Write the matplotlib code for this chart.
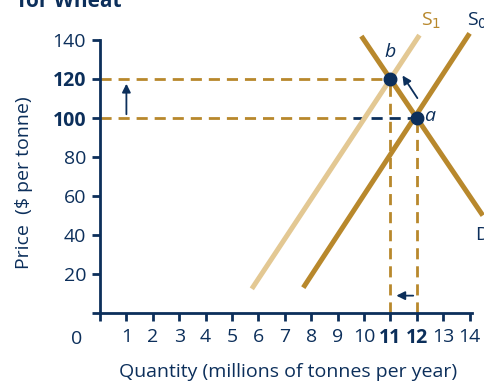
import matplotlib
matplotlib.use("Agg")
import matplotlib.pyplot as plt

plt.rcParams['font.family'] = ['Open Sans', 'DejaVu Sans']

NAVY = "#0c2f5b"
GOLD = "#b8882c"
LIGHT = "#e3c893"

# Curves (quantity, price) end points
d_q = [9.9, 14.5]
d_p = [142, 50]
s0_q = [7.7, 14.0]
s0_p = [13, 143.4]
s1_q = [5.75, 12.1]
s1_p = [12.4, 142.5]

# Equilibria
pt_a = (12, 100)
pt_b = (11, 120)

x_ticks = list(range(0, 15))
x_labels = [""] + [str(i) for i in range(1, 15)]
y_ticks = [0, 20, 40, 60, 80, 100, 120, 140]
y_labels = ["", "20", "40", "60", "80", "100", "120", "140"]
bold_x = {"11", "12"}
bold_y = {"100", "120"}

FS = 14

W, H = 484, 383
fig = plt.figure(figsize=(W / 100, H / 100), dpi=100)
px_x0, px_y0 = 100, 313
sx, sy = 26.4, 1.95
xmax, ymax = 14.5, 150
ax = fig.add_axes([px_x0 / W, (H - px_y0) / H, xmax * sx / W, ymax * sy / H])
ax.set_xlim(0, xmax)
ax.set_ylim(0, ymax)

for s in ["top", "right"]:
    ax.spines[s].set_visible(False)
for s in ["left", "bottom"]:
    ax.spines[s].set_color(NAVY)
    ax.spines[s].set_linewidth(2)
ax.spines["left"].set_bounds(0, 140)
ax.spines["bottom"].set_bounds(0, 14.1)

ax.set_xticks(x_ticks)
ax.set_xticklabels(x_labels)
ax.set_yticks(y_ticks)
ax.set_yticklabels(y_labels)
ax.tick_params(axis="both", colors=NAVY, width=2, length=6, labelsize=FS)
ax.tick_params(axis="x", pad=5)
ax.tick_params(axis="y", pad=4)
for lab in ax.get_xticklabels():
    lab.set_color(NAVY)
    if lab.get_text() in bold_x:
        lab.set_fontweight("bold")
for lab in ax.get_yticklabels():
    lab.set_color(NAVY)
    if lab.get_text() in bold_y:
        lab.set_fontweight("bold")

ax.text(-0.87, -13.5, "0", color=NAVY, fontsize=FS, ha="center", va="center", clip_on=False)

# Dashed guide lines
dash = dict(lw=2, dashes=(4, 2.5))
ax.plot([0, pt_b[0]], [pt_b[1], pt_b[1]], color=GOLD, **dash)
ax.plot([0, 9.6], [pt_a[1], pt_a[1]], color=GOLD, **dash)
ax.plot([9.6, pt_a[0]], [pt_a[1], pt_a[1]], color=NAVY, **dash)
ax.plot([pt_b[0], pt_b[0]], [0, pt_b[1]], color=GOLD, **dash)
ax.plot([pt_a[0], pt_a[0]], [0, pt_a[1]], color=GOLD, **dash)

# Supply and demand curves
ax.plot(s1_q, s1_p, color=LIGHT, lw=3.6, solid_capstyle="butt", clip_on=False)
ax.plot(s0_q, s0_p, color=GOLD, lw=3.6, solid_capstyle="butt", clip_on=False)
ax.plot(d_q, d_p, color=GOLD, lw=3.6, solid_capstyle="butt", clip_on=False)

# Equilibrium points
ax.plot(*pt_a, "o", color=NAVY, ms=9, zorder=5)
ax.plot(*pt_b, "o", color=NAVY, ms=9, zorder=5)

# Arrows
arw = dict(arrowstyle="-|>,head_length=0.5,head_width=0.25", color=NAVY, lw=1.3)
ax.annotate("", xy=(1, 119), xytext=(1, 100.5), arrowprops=arw)
ax.annotate("", xy=(11.4, 123), xytext=(12.08, 109), arrowprops=arw)
ax.annotate("", xy=(11.12, 8.9), xytext=(11.97, 8.9), arrowprops=arw)

# Labels
ax.text(12.5, 101, "a", color=NAVY, fontsize=FS, style="italic", ha="center", va="center")
ax.text(10.98, 134, "b", color=NAVY, fontsize=FS, style="italic", ha="center", va="center")
ax.text(12.55, 150, "S$_1$", color=GOLD, fontsize=FS, ha="center", va="center", clip_on=False)
ax.text(13.9, 150, "S$_0$", color=NAVY, fontsize=FS, ha="left", va="center", clip_on=False)
ax.text(14.2, 40, "D", color=NAVY, fontsize=FS, ha="left", va="center", clip_on=False)

fig.text(24 / W, 1 - 183 / H, "Price  ($ per tonne)", color=NAVY, fontsize=FS,
         rotation=90, ha="center", va="center")
fig.text(288 / W, 1 - 372 / H, "Quantity (millions of tonnes per year)", color=NAVY,
         fontsize=FS, ha="center", va="center")
fig.text(18 / W, 1 - 7 / H, "for Wheat", color=NAVY, fontsize=15, fontweight="bold",
         ha="left", va="baseline")

fig.savefig("out.png", dpi=100)
